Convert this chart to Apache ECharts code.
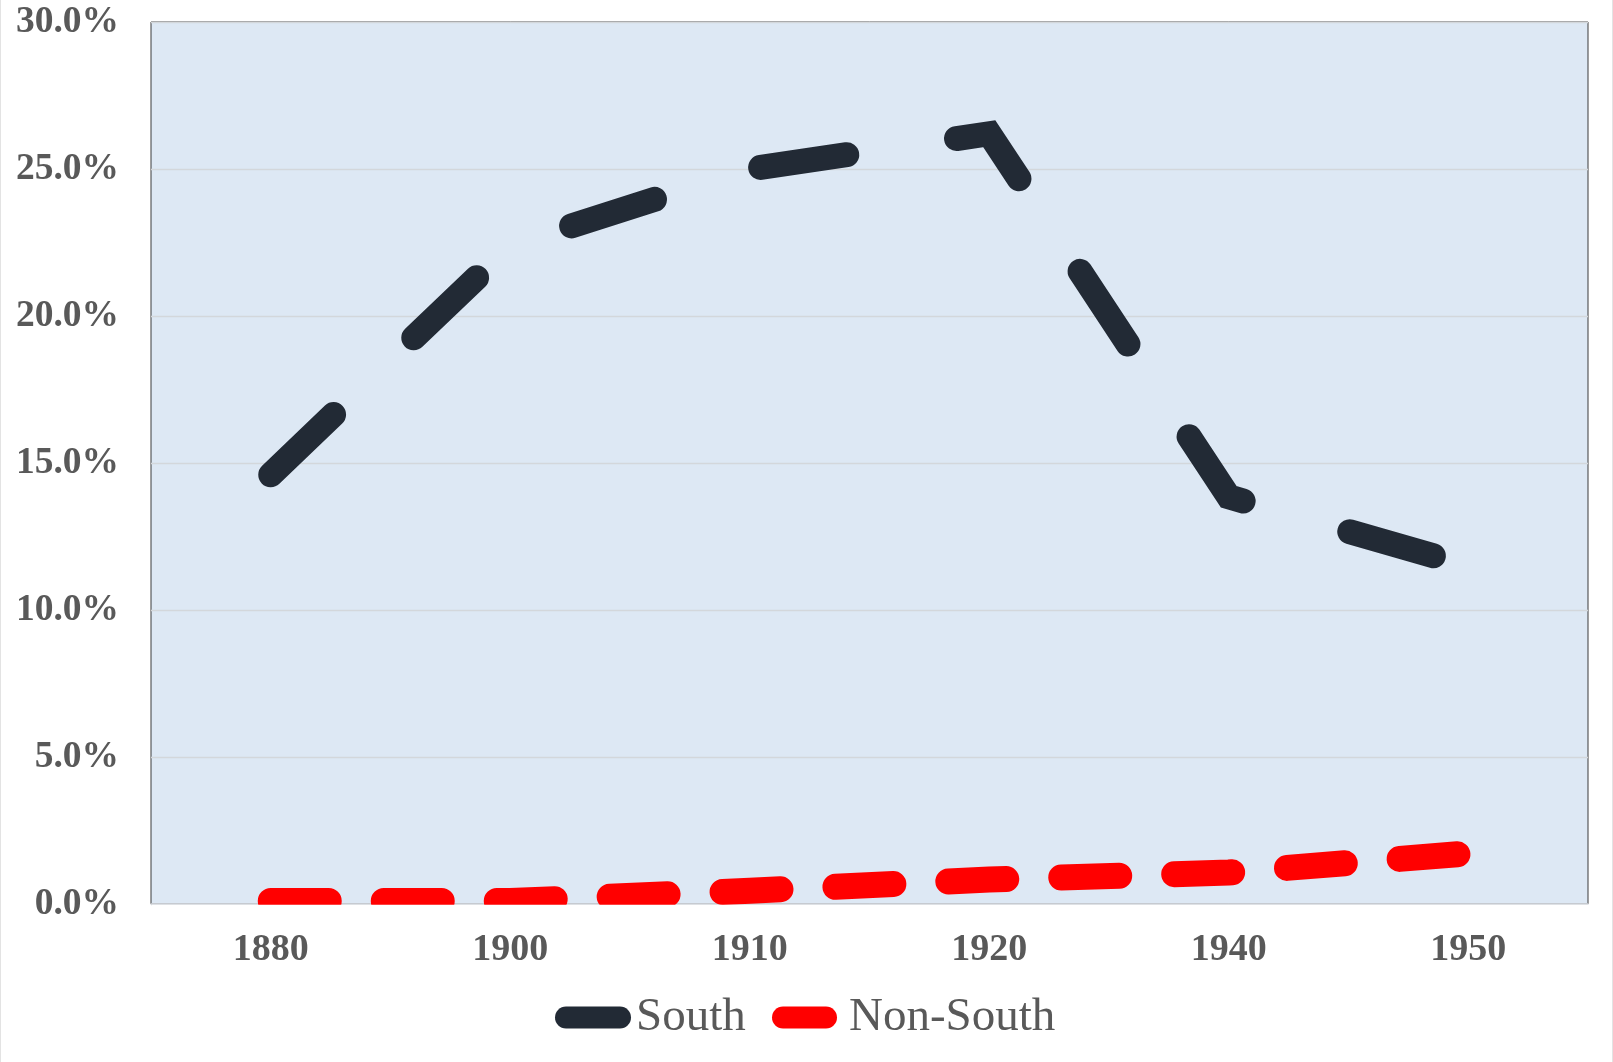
<!DOCTYPE html>
<html>
<head>
<meta charset="utf-8">
<script src="https://cdn.jsdelivr.net/npm/echarts@6/dist/echarts.min.js"></script>
<style>
html,body{margin:0;padding:0;background:#fff;}
#chart{width:1613px;height:1062px;}
</style>
</head>
<body>
<div id="chart"></div>
<script>
// Data (percent values)
const categories = ['1880', '1900', '1910', '1920', '1940', '1950'];
const southValues = [14.6, 22.4, 25.0, 26.2, 13.85, 11.5];
const nonSouthValues = [0.1, 0.1, 0.45, 0.83, 1.07, 1.72];
const yTicks = [0, 5, 10, 15, 20, 25, 30];

const chart = echarts.init(document.getElementById('chart'), null, {renderer: 'canvas'});
const serif = 'Liberation Serif';
const textGray = '#595959';
const gridBox = {left: 151, right: 25, top: 22, bottom: 158};

const option = {
  animation: false,
  backgroundColor: '#ffffff',
  grid: {
    left: gridBox.left, right: gridBox.right, top: gridBox.top, bottom: gridBox.bottom,
    show: true,
    backgroundColor: '#dde8f4',
    borderColor: '#3a3a3a',
    borderWidth: 1
  },
  legend: [
    {
      data: ['South'],
      left: 555, top: 994,
      padding: 0,
      itemWidth: 76, itemHeight: 22,
      icon: 'path://M11,0 L65,0 A11,11 0 0 1 65,22 L11,22 A11,11 0 0 1 11,0 Z',
      textStyle: {fontFamily: serif, fontSize: 47, color: textGray}
    },
    {
      data: ['Non-South'],
      left: 772, top: 994,
      padding: 0,
      itemWidth: 65, itemHeight: 22,
      icon: 'path://M11,0 L54,0 A11,11 0 0 1 54,22 L11,22 A11,11 0 0 1 11,0 Z',
      textStyle: {fontFamily: serif, fontSize: 47, color: textGray, padding: [0, 0, 0, 7]}
    }
  ],
  xAxis: {
    type: 'category',
    data: categories,
    boundaryGap: true,
    axisTick: {show: false},
    axisLine: {show: true, lineStyle: {color: '#d4d8dd', width: 1.5}},
    axisLabel: {
      fontFamily: serif, fontSize: 38, fontWeight: 'bold', color: textGray, margin: 27
    },
    splitLine: {show: false}
  },
  yAxis: {
    type: 'value',
    min: yTicks[0], max: yTicks[yTicks.length - 1], interval: 5,
    axisLine: {show: false},
    axisTick: {show: false},
    axisLabel: {
      fontFamily: serif, fontSize: 37.5, fontWeight: 'bold', color: textGray, margin: 32,
      formatter: v => v.toFixed(1) + '%'
    },
    splitLine: {show: true, lineStyle: {color: '#d3d7db', width: 1.3}}
  },
  series: [
    {
      name: 'South',
      type: 'line',
      data: southValues,
      showSymbol: false,
      symbol: 'none',
      color: '#222a35',
      lineStyle: {color: '#222a35', width: 25, type: [87, 111], cap: 'round', join: 'miter'},
      clip: true,
      z: 3
    },
    {
      name: 'Non-South',
      type: 'line',
      data: nonSouthValues,
      showSymbol: false,
      symbol: 'none',
      color: '#ff0000',
      lineStyle: {color: '#ff0000', width: 26, type: [58, 55], cap: 'round', join: 'miter'},
      clip: true,
      z: 2
    }
  ]
};
chart.setOption(option);

// Mask the part of the thick lines that spills below the plot area (the library
// expands its clip rect by half the line width), matching the hard clip of the original.
const y0 = chart.convertToPixel({yAxisIndex: 0}, yTicks[0]);
const W = chart.getWidth(), H = chart.getHeight();
chart.setOption({
  graphic: [
    {type: 'rect', z: 10, shape: {x: gridBox.left + 1, y: y0 + 0.75, width: W - gridBox.left - gridBox.right - 1, height: 18}, style: {fill: '#ffffff'}},
    {type: 'rect', z: 11, shape: {x: 0, y: 0, width: 1, height: H}, style: {fill: '#e3e3e3'}},
    {type: 'rect', z: 11, shape: {x: W - 1, y: 0, width: 1, height: H}, style: {fill: '#e3e3e3'}}
  ]
});
</script>
</body>
</html>
